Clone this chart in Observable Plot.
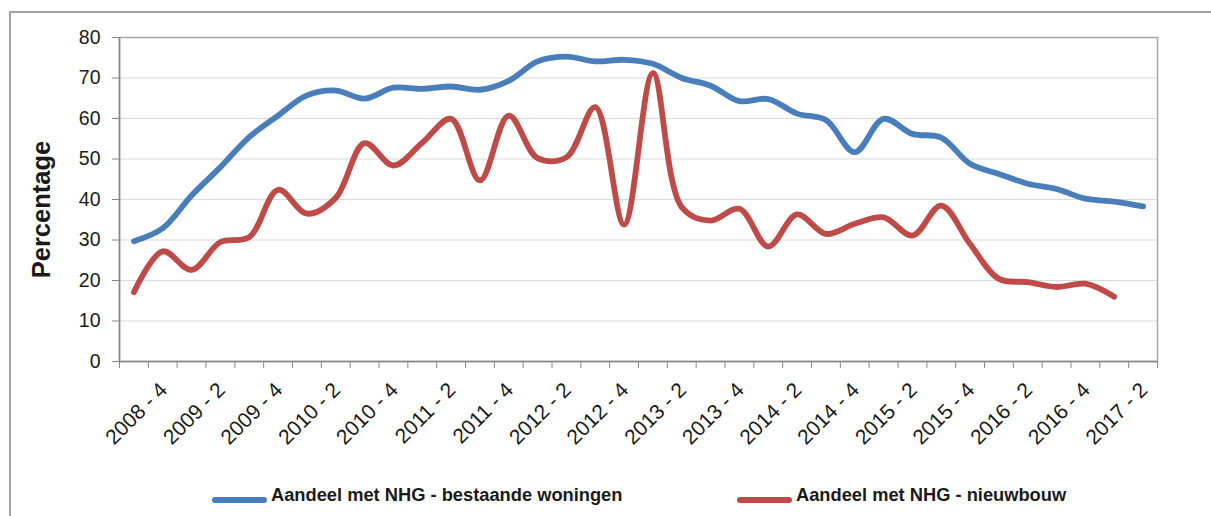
<!DOCTYPE html>
<html>
<head>
<meta charset="utf-8">
<script src="https://cdn.jsdelivr.net/npm/d3@7"></script>
<script src="https://cdn.jsdelivr.net/npm/@observablehq/plot@0.6"></script>
<style>
  html, body { margin: 0; padding: 0; background: #ffffff; }
  #wrap { position: relative; width: 1211px; height: 516px; overflow: hidden; font-family: "Liberation Sans", Arial, sans-serif; }
  #border { position: absolute; left: 9px; top: 11px; width: 1300px; height: 600px; border-left: 2px solid #a3a3a3; border-top: 2px solid #a3a3a3; box-sizing: border-box; }
  #chart { position: absolute; left: 0; top: 0; }
  .leg { position: absolute; top: 482px; height: 26px; display: flex; align-items: center; font-size: 18.3px; font-weight: bold; color: #1a1a1a; white-space: nowrap; }
  .sw { width: 55px; height: 6px; border-radius: 3px; margin-right: 4px; margin-top: 9px; }
</style>
</head>
<body>
<div id="wrap">
  <div id="border"></div>
  <div id="chart"></div>
  <div class="leg" style="left:212px"><span class="sw" style="background:#4a7ebb"></span><span id="l1"></span></div>
  <div class="leg" style="left:737px"><span class="sw" style="background:#be4b48"></span><span id="l2"></span></div>
</div>
<script>
const quarters = [
  "2008 - 3","2008 - 4",
  "2009 - 1","2009 - 2","2009 - 3","2009 - 4",
  "2010 - 1","2010 - 2","2010 - 3","2010 - 4",
  "2011 - 1","2011 - 2","2011 - 3","2011 - 4",
  "2012 - 1","2012 - 2","2012 - 3","2012 - 4",
  "2013 - 1","2013 - 2","2013 - 3","2013 - 4",
  "2014 - 1","2014 - 2","2014 - 3","2014 - 4",
  "2015 - 1","2015 - 2","2015 - 3","2015 - 4",
  "2016 - 1","2016 - 2","2016 - 3","2016 - 4",
  "2017 - 1","2017 - 2"
];
const tickLabels = ["2008 - 4","2009 - 2","2009 - 4","2010 - 2","2010 - 4","2011 - 2","2011 - 4","2012 - 2","2012 - 4","2013 - 2","2013 - 4","2014 - 2","2014 - 4","2015 - 2","2015 - 4","2016 - 2","2016 - 4","2017 - 2"];
const bestaande = [29.7, 32.9, 41.0, 48.0, 55.4, 60.7, 65.7, 66.9, 64.9, 67.6, 67.3, 67.9, 67.1, 69.3, 74.1, 75.3, 74.1, 74.5, 73.5, 70.0, 68.1, 64.3, 64.8, 61.2, 59.6, 51.7, 59.9, 56.2, 55.3, 48.8, 46.3, 43.9, 42.6, 40.2, 39.5, 38.3];
const nieuwbouw = [17.1, 27.2, 22.6, 29.5, 30.7, 42.4, 36.5, 40.4, 53.9, 48.4, 54.0, 59.9, 44.7, 60.7, 50.2, 50.4, 62.8, 33.8, 71.2, 38.1, 34.8, 37.7, 28.4, 36.3, 31.5, 34.0, 35.6, 31.1, 38.5, 29.0, 20.4, 19.6, 18.4, 19.2, 16.0];
const yTicks = [0, 10, 20, 30, 40, 50, 60, 70, 80];
const seriesNames = ["Aandeel met NHG - bestaande woningen", "Aandeel met NHG - nieuwbouw"];
const colors = ["#4a7ebb", "#be4b48"];

const rowsA = bestaande.map((v, i) => ({q: quarters[i], i, v}));
const rowsB = nieuwbouw.map((v, i) => ({q: quarters[i], i, v}));
const idx = new Map(quarters.map((q, i) => [q, i]));
const boundaries = d3.range(quarters.length + 1).map(k => k - 0.5);
const labelRows = tickLabels.map(t => ({t, i: idx.get(t)}));

const chart = Plot.plot({
  width: 1211,
  height: 440,
  marginLeft: 119,
  marginRight: 54,
  marginTop: 37,
  marginBottom: 79,
  x: {domain: [-0.5, quarters.length - 0.5], axis: null},
  y: {domain: [0, 80], axis: null},
  style: {fontFamily: "'Liberation Sans', Arial, sans-serif", background: "transparent", overflow: "visible"},
  marks: [
    Plot.ruleY(yTicks.filter(d => d > 0), {stroke: "#d9d9d9", strokeWidth: 1.2}),
    Plot.frame({stroke: "#a6a6a6", strokeWidth: 1.5}),
    Plot.ruleX([-0.5], {stroke: "#868686", strokeWidth: 1.5}),
    Plot.ruleY([0], {stroke: "#868686", strokeWidth: 1.5}),
    Plot.axisY({ticks: yTicks, tickSize: 7, tickPadding: 12, fontSize: 19.5, stroke: "#868686", fill: "#1a1a1a", label: null}),
    Plot.axisX({ticks: boundaries, tickSize: 7, tickFormat: () => "", stroke: "#868686", label: null}),
    Plot.text(labelRows, {x: "i", frameAnchor: "bottom", text: "t", rotate: -45, textAnchor: "end", lineAnchor: "middle", dy: 25, dx: 1, fontSize: 21, fill: "#1a1a1a"}),
    Plot.text(["Percentage"], {frameAnchor: "left", rotate: -90, dx: -78, dy: 10, fontSize: 25.5, fontWeight: "bold", textAnchor: "middle", lineAnchor: "middle", fill: "#1a1a1a"}),
    Plot.lineY(rowsA, {x: "i", y: "v", curve: "catmull-rom", stroke: colors[0], strokeWidth: 5.8, strokeLinecap: "round", strokeLinejoin: "round"}),
    Plot.lineY(rowsB, {x: "i", y: "v", curve: "catmull-rom", stroke: colors[1], strokeWidth: 5.8, strokeLinecap: "round", strokeLinejoin: "round"})
  ]
});
document.getElementById("chart").appendChild(chart);
document.getElementById("l1").textContent = seriesNames[0];
document.getElementById("l2").textContent = seriesNames[1];
</script>
</body>
</html>
